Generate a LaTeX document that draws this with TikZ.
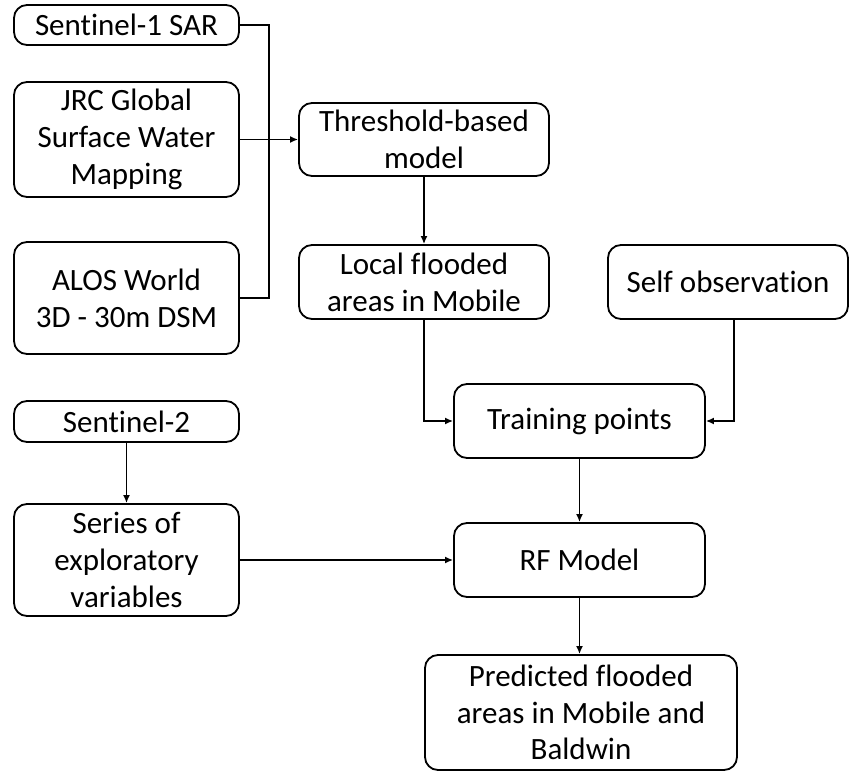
\documentclass[tikz,border=0pt]{standalone}
\usepackage{fontspec}
\setmainfont{Carlito}[Ligatures=NoCommon]
\usetikzlibrary{arrows.meta}
\begin{document}
\begin{tikzpicture}[x=1pt,y=-1pt,
  box/.style={draw=black,line width=1.8pt,rounded corners=13pt,fill=white,inner sep=0pt,align=center,
    font=\fontsize{31}{36.7}\selectfont},
  conn/.style={draw=black,line width=1.7pt},
  arr/.style={conn,-{Latex[length=8pt,width=7pt]}}]
\useasboundingbox (0,0) rectangle (849,771);
\node[box,minimum width=225pt,minimum height=40pt] (s1) at (126.5,25) {Sentinel-1 SAR};
\node[box,minimum width=225pt,minimum height=115pt] (jrc) at (126.5,139.5) {JRC Global\\Surface Water\\Mapping};
\node[box,minimum width=225pt,minimum height=112pt] (alos) at (126.5,298) {ALOS World\\3D - 30m DSM};
\node[box,minimum width=250pt,minimum height=73pt] (thr) at (424,139.5) {Threshold-based\\model};
\node[box,minimum width=250pt,minimum height=74pt] (loc) at (424,282) {Local flooded\\areas in Mobile};
\node[box,minimum width=240pt,minimum height=74pt] (self) at (728,282) {Self observation};
\node[box,minimum width=251pt,minimum height=74pt] (train) at (579.5,421) {Training points};
\node[box,minimum width=225pt,minimum height=41pt] (s2) at (126.5,421.5) {Sentinel-2};
\node[box,minimum width=225pt,minimum height=112pt] (ser) at (126.5,560) {Series of\\exploratory\\variables};
\node[box,minimum width=251pt,minimum height=74pt] (rf) at (579.5,560) {RF Model};
\node[box,minimum width=312pt,minimum height=115pt] (pred) at (581,712.5) {Predicted flooded\\areas in Mobile and\\Baldwin};
\coordinate (bus) at (269,25);
\draw[conn] (s1.east) -- (bus) |- (alos.east);
\draw[arr] (jrc.east) -- (thr.west);
\draw[arr] (thr.south) -- (loc.north);
\draw[arr] (loc.south) |- (train.west);
\draw[arr] ([xshift=6pt]self.south) |- (train.east);
\draw[arr] (train.south) -- (rf.north);
\draw[arr] (s2.south) -- (ser.north);
\draw[arr] (ser.east) -- (rf.west);
\draw[arr] (rf.south) -- (rf.south |- pred.north);
\end{tikzpicture}
\end{document}
